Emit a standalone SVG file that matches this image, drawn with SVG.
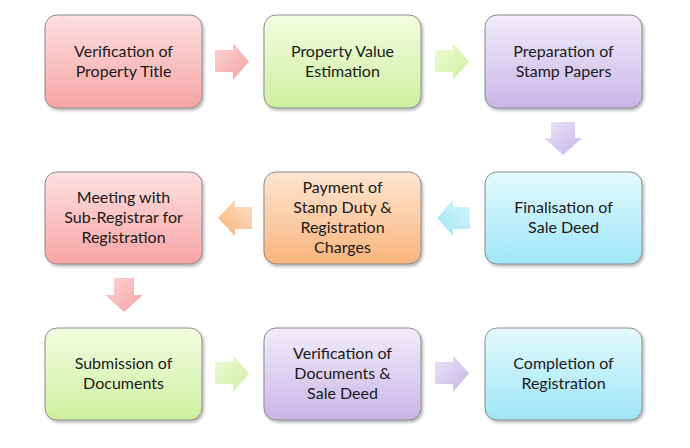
<svg xmlns="http://www.w3.org/2000/svg" width="690" height="448" viewBox="0 0 690 448">
<defs>
<linearGradient id="gPink" x1="0" y1="0" x2="0" y2="1"><stop offset="0" stop-color="#fde0e0"/><stop offset="1" stop-color="#f7a4a4"/></linearGradient>
<linearGradient id="gGreen" x1="0" y1="0" x2="0" y2="1"><stop offset="0" stop-color="#f3fde2"/><stop offset="1" stop-color="#cdf09e"/></linearGradient>
<linearGradient id="gPurple" x1="0" y1="0" x2="0" y2="1"><stop offset="0" stop-color="#f1ecfa"/><stop offset="1" stop-color="#c8b6e8"/></linearGradient>
<linearGradient id="gCyan" x1="0" y1="0" x2="0" y2="1"><stop offset="0" stop-color="#e3f9fd"/><stop offset="1" stop-color="#9fe6f7"/></linearGradient>
<linearGradient id="gOrange" x1="0" y1="0" x2="0" y2="1"><stop offset="0" stop-color="#fde6d2"/><stop offset="1" stop-color="#f9b47c"/></linearGradient>
<linearGradient id="aPink" x1="0" y1="0" x2="1" y2="1"><stop offset="0" stop-color="#fbd2d2"/><stop offset="1" stop-color="#f6a3a3"/></linearGradient>
<linearGradient id="aGreen" x1="0" y1="0" x2="1" y2="1"><stop offset="0" stop-color="#effbd8"/><stop offset="1" stop-color="#cdf09e"/></linearGradient>
<linearGradient id="aPurple" x1="0" y1="0" x2="1" y2="1"><stop offset="0" stop-color="#ece4f8"/><stop offset="1" stop-color="#c7b5e6"/></linearGradient>
<linearGradient id="aCyan" x1="1" y1="0" x2="0" y2="1"><stop offset="0" stop-color="#d9f6fc"/><stop offset="1" stop-color="#9fe3f5"/></linearGradient>
<linearGradient id="aOrange" x1="1" y1="0" x2="0" y2="1"><stop offset="0" stop-color="#fde0c6"/><stop offset="1" stop-color="#f8b27a"/></linearGradient>
<filter id="sh" x="-10%" y="-10%" width="125%" height="130%"><feDropShadow dx="1.5" dy="2" stdDeviation="1.5" flood-color="#000" flood-opacity="0.3"/></filter>
</defs>
<style>
.box{stroke:#8c8c8c;stroke-width:1;filter:url(#sh)}
.t{font-family:Lato,"Open Sans","Liberation Sans",sans-serif;font-size:16px;fill:#1a1a1a;text-anchor:middle}
</style>
<rect width="690" height="448" fill="#ffffff"/>
<g id="connectors">
<path d="M215,50 H233 V43 L249,61.5 L233,80 V72 H215 Z" fill="url(#aPink)"/>
<path d="M435,50 H453 V43 L469,61.5 L453,80 V72 H435 Z" fill="url(#aGreen)"/>
<path d="M551,122 V138 H544 L563,155 L582,138 H575 V122 Z" fill="url(#aPurple)"/>
<path d="M470,207 H453 V200 L437,218 L453,236 V229 H470 Z" fill="url(#aCyan)"/>
<path d="M252,207 H235 V200 L218,218 L235,236 V229 H252 Z" fill="url(#aOrange)"/>
<path d="M114,278 V295 H105 L124,312 L143,295 H134 V278 Z" fill="url(#aPink)"/>
<path d="M215,362 H233 V355 L249,373.5 L233,392 V384 H215 Z" fill="url(#aGreen)"/>
<path d="M435,362 H453 V355 L469,373.5 L453,392 V384 H435 Z" fill="url(#aPurple)"/>
</g>
<g id="n1"><rect class="box" x="45" y="15" width="157" height="93" rx="12" fill="url(#gPink)"/><text class="t" x="123.5" y="57">Verification of</text><text class="t" x="123.5" y="77">Property Title</text></g>
<g id="n2"><rect class="box" x="264" y="15" width="157" height="93" rx="12" fill="url(#gGreen)"/><text class="t" x="342.5" y="57">Property Value</text><text class="t" x="342.5" y="77">Estimation</text></g>
<g id="n3"><rect class="box" x="485" y="15" width="157" height="93" rx="12" fill="url(#gPurple)"/><text class="t" x="563.5" y="57">Preparation of</text><text class="t" x="563.5" y="77">Stamp Papers</text></g>
<g id="n4"><rect class="box" x="485" y="172" width="157" height="92" rx="12" fill="url(#gCyan)"/><text class="t" x="563.5" y="213">Finalisation of</text><text class="t" x="563.5" y="233">Sale Deed</text></g>
<g id="n5"><rect class="box" x="264" y="172" width="157" height="92" rx="12" fill="url(#gOrange)"/><text class="t" x="342.5" y="193">Payment of</text><text class="t" x="342.5" y="213">Stamp Duty &amp;</text><text class="t" x="342.5" y="233">Registration</text><text class="t" x="342.5" y="253">Charges</text></g>
<g id="n6"><rect class="box" x="45" y="172" width="157" height="92" rx="12" fill="url(#gPink)"/><text class="t" x="123.5" y="203">Meeting with</text><text class="t" x="123.5" y="223">Sub-Registrar for</text><text class="t" x="123.5" y="243">Registration</text></g>
<g id="n7"><rect class="box" x="45" y="328" width="157" height="92" rx="12" fill="url(#gGreen)"/><text class="t" x="123.5" y="369">Submission of</text><text class="t" x="123.5" y="389">Documents</text></g>
<g id="n8"><rect class="box" x="264" y="328" width="157" height="92" rx="12" fill="url(#gPurple)"/><text class="t" x="342.5" y="359">Verification of</text><text class="t" x="342.5" y="379">Documents &amp;</text><text class="t" x="342.5" y="399">Sale Deed</text></g>
<g id="n9"><rect class="box" x="485" y="328" width="157" height="92" rx="12" fill="url(#gCyan)"/><text class="t" x="563.5" y="369">Completion of</text><text class="t" x="563.5" y="389">Registration</text></g>
</svg>
